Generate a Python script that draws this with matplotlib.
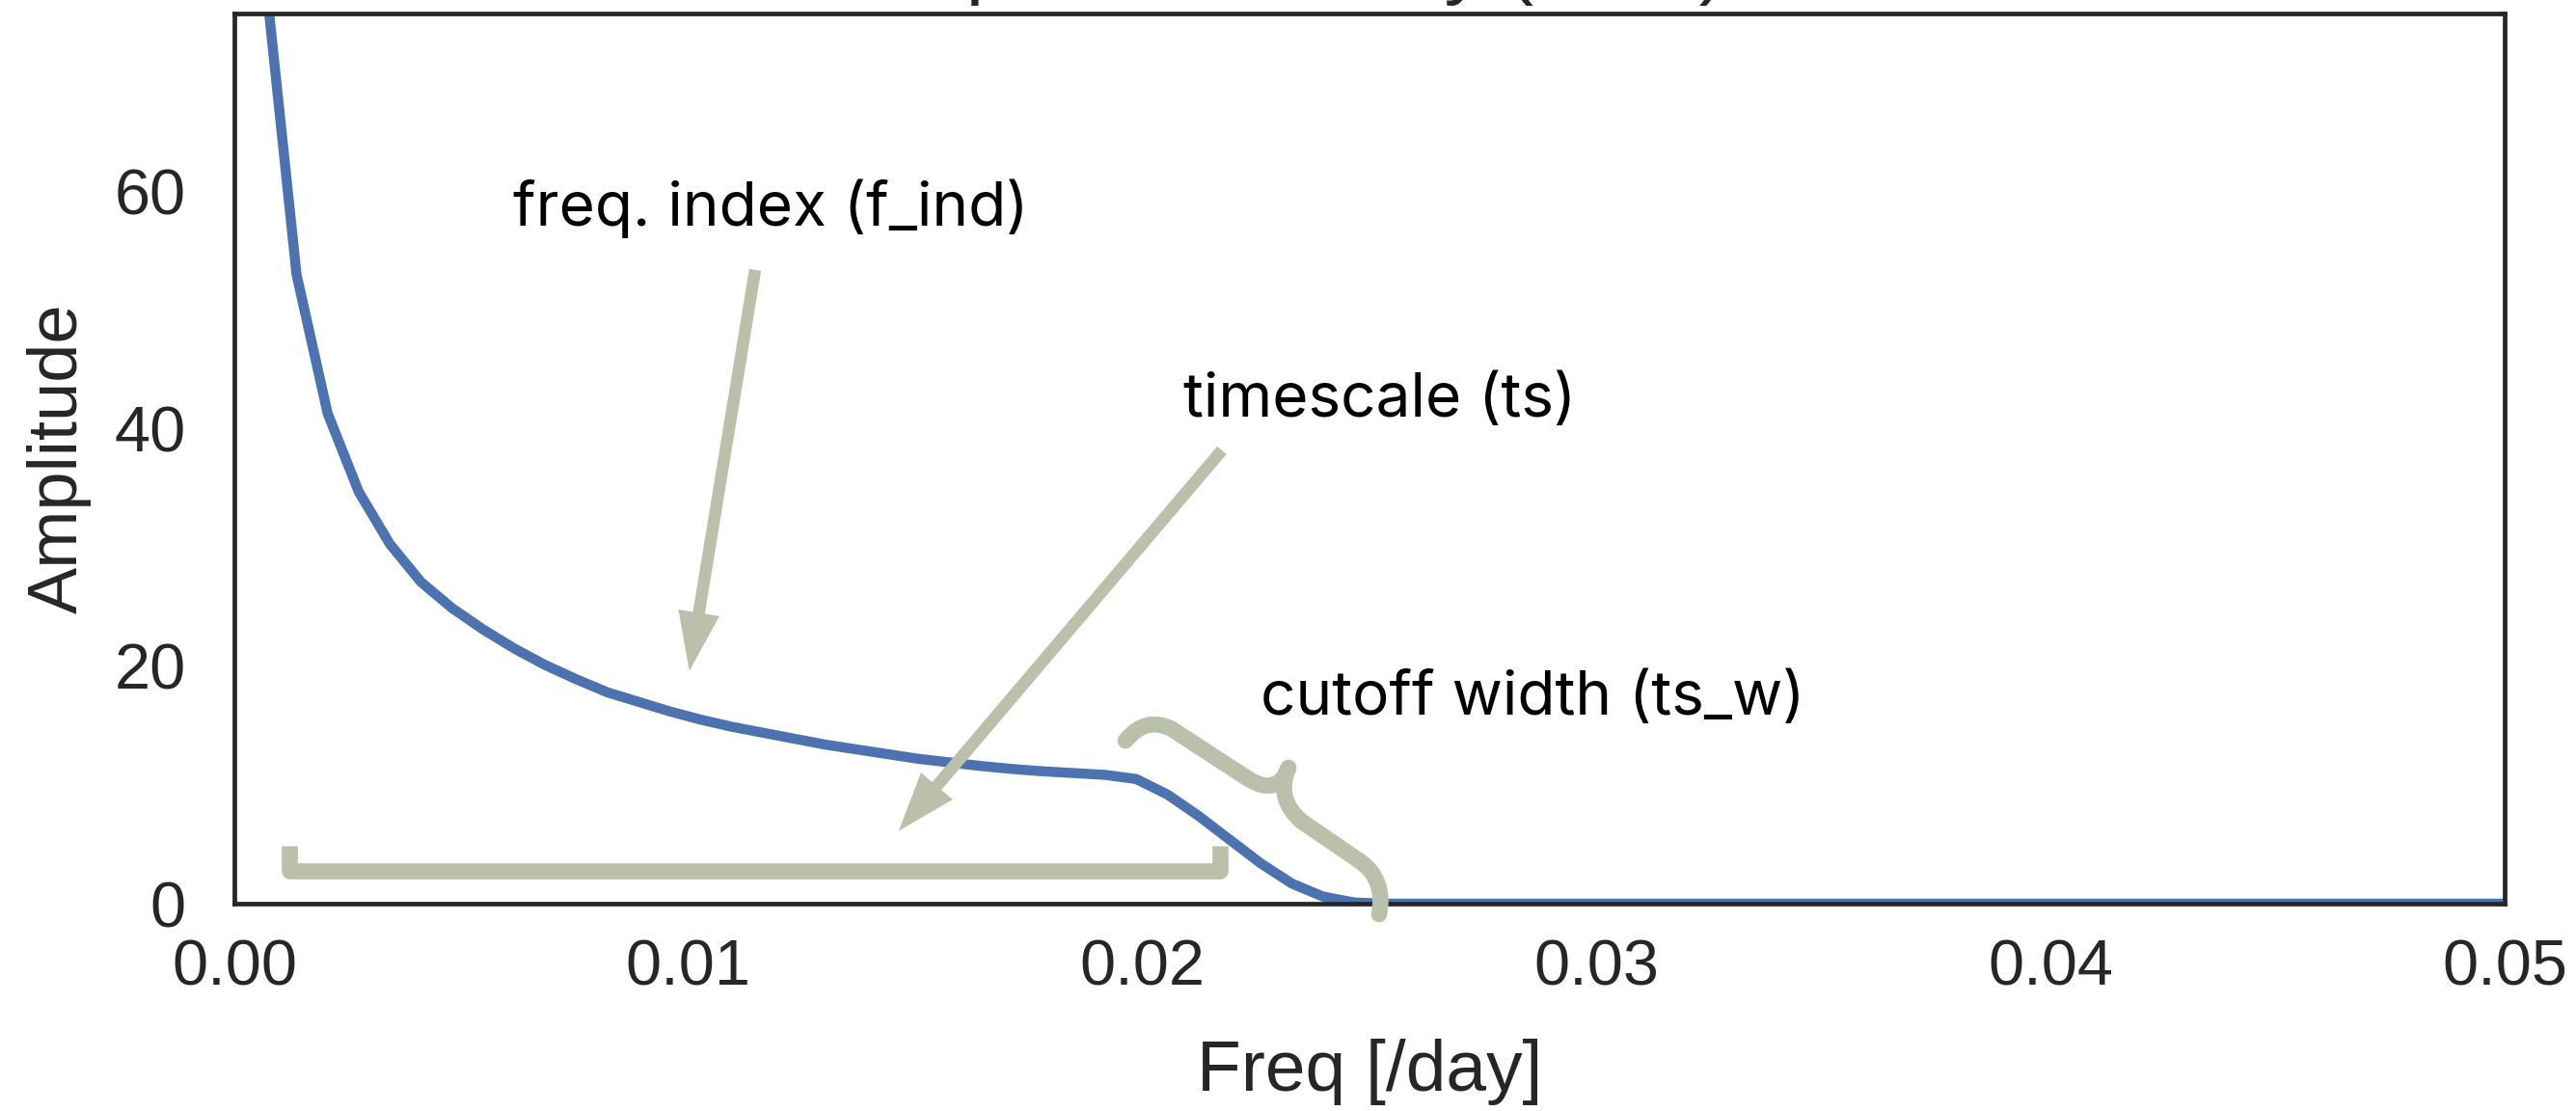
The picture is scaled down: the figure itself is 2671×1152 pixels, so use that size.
import numpy as np
import matplotlib
matplotlib.use("Agg")
import matplotlib.pyplot as plt
from matplotlib.path import Path
from matplotlib.patches import PathPatch

# ---- data ----
freq = [0.000685, 0.001370, 0.002055, 0.002740, 0.003425, 0.004110, 0.004795,
        0.005479, 0.006164, 0.006849, 0.007534, 0.008219, 0.008904, 0.009589,
        0.010274, 0.010959, 0.011644, 0.012329, 0.013014, 0.013699, 0.014384,
        0.015068, 0.015753, 0.016438, 0.017123, 0.017808, 0.018493, 0.019178,
        0.019863, 0.020548, 0.021233, 0.021918, 0.022603, 0.023288, 0.023973,
        0.024658, 0.025342, 0.050000]
amplitude = [78.0, 53.0, 41.3, 34.7, 30.3, 27.1, 24.9,
             23.1, 21.5, 20.1, 18.9, 17.8, 17.0, 16.2,
             15.5, 14.9, 14.4, 13.9, 13.4, 13.0, 12.6,
             12.2, 11.9, 11.6, 11.35, 11.15, 11.0, 10.85,
             10.5, 9.2, 7.4, 5.4, 3.4, 1.7, 0.6,
             0.1, 0.0, 0.0]
xticks = [0.00, 0.01, 0.02, 0.03, 0.04, 0.05]
xticklabels = ["0.00", "0.01", "0.02", "0.03", "0.04", "0.05"]
yticks = [0, 20, 40, 60]
yticklabels = ["0", "20", "40", "60"]
title = "Spectral density (PSD)"
xlabel = "Freq [/day]"
ylabel = "Amplitude"
notes = ["freq. index (f_ind)", "timescale (ts)", "cutoff width (ts_w)"]

# ---- style ----
LINE = "#4C72B0"
ANN = "#BAC0AA"
DARK = "#262626"
TICKFONT = "Liberation Sans"
NOTEFONT = "Inter"

W, H = 2671, 1152
fig = plt.figure(figsize=(W / 100, H / 100), dpi=100)
fig.patch.set_facecolor("white")
ax = fig.add_axes([243 / W, 1 - 937 / H, (2597 - 243) / W, (937 - 14) / H])

ax.plot(freq, amplitude, color=LINE, lw=7.5, solid_joinstyle="round", zorder=2)
ax.set_xlim(0, 0.05)
ax.set_ylim(0, 75)

for s in ax.spines.values():
    s.set_color(DARK)
    s.set_linewidth(3.4)

ax.set_xticks(xticks)
ax.set_xticklabels(xticklabels, family=TICKFONT, fontsize=48, color=DARK)
ax.set_yticks(yticks)
ax.set_yticklabels(yticklabels, family=TICKFONT, fontsize=48, color=DARK)
ax.tick_params(axis="both", length=0)
ax.tick_params(axis="x", pad=26)
ax.tick_params(axis="y", pad=36)

ax.set_xlabel(xlabel, family=TICKFONT, fontsize=54, color=DARK)
ax.xaxis.set_label_coords(0.5, -0.152)
ax.set_ylabel(ylabel, family=TICKFONT, fontsize=52, color=DARK)
ax.yaxis.set_label_coords(-0.063, 0.5)

# title almost entirely above the canvas (only descenders show)
fig.text(0.512, 1 + 11 / H, title, ha="center", va="baseline",
         fontsize=60, family=TICKFONT, color=DARK)

# ---- annotations ----
ax.text(0.01181, 58.6, notes[0], ha="center", va="center",
        fontsize=46, family=NOTEFONT, color="black")
ax.text(0.02523, 42.4, notes[1], ha="center", va="center",
        fontsize=46, family=NOTEFONT, color="black")
ax.text(0.02859, 17.3, notes[2], ha="center", va="center",
        fontsize=46, family=NOTEFONT, color="black")

arrow_style = "simple,head_length=0.44,head_width=0.31,tail_width=0.09"
ax.annotate("", xy=(0.01002, 19.6), xytext=(0.01147, 53.4),
            arrowprops=dict(arrowstyle=arrow_style, mutation_scale=100,
                            fc=ANN, ec="none", lw=0, shrinkA=0, shrinkB=0))
ax.annotate("", xy=(0.01463, 6.12), xytext=(0.02175, 38.2),
            arrowprops=dict(arrowstyle=arrow_style, mutation_scale=100,
                            fc=ANN, ec="none", lw=0, shrinkA=0, shrinkB=0))

# timescale bracket
ax.plot([0.00121, 0.00121, 0.02171, 0.02171], [4.9, 2.76, 2.76, 4.9],
        color=ANN, lw=12, solid_joinstyle="round", solid_capstyle="butt",
        zorder=3)

# curly brace for cutoff width
brace_verts = [(0.019626, 13.73),
               (0.020072, 15.84), (0.020646, 14.71),
               (0.022345, 10.48),
               (0.022982, 9.02), (0.023216, 11.46),
               (0.022918, 8.86), (0.023513, 6.91),
               (0.024788, 3.58),
               (0.025361, 2.03), (0.025212, -0.89)]
brace_codes = [Path.MOVETO,
               Path.CURVE3, Path.CURVE3,
               Path.LINETO,
               Path.CURVE3, Path.CURVE3,
               Path.CURVE3, Path.CURVE3,
               Path.LINETO,
               Path.CURVE3, Path.CURVE3]
brace = PathPatch(Path(brace_verts, brace_codes), fill=False, ec=ANN, lw=12,
                  capstyle="round", joinstyle="round", clip_on=False, zorder=3)
ax.add_patch(brace)

fig.savefig("out.png", dpi=100, facecolor="white")
